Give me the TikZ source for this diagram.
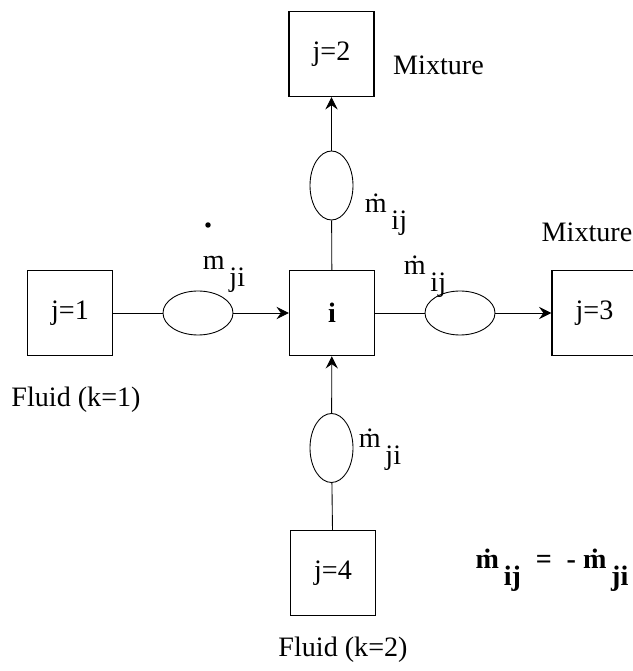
\documentclass[tikz,border=0pt]{standalone}
\usepackage{fontspec}
\setmainfont{Liberation Serif}
\usepackage{tikz}
\usetikzlibrary{positioning, arrows.meta, shapes.geometric}
\tikzset{
    cell/.style={
        rectangle,
        draw=black,
        line width=0.8pt,
        minimum size=1.7cm,
        inner sep=0pt
    },
    link/.style={
        ellipse,
        draw=black,
        line width=0.5pt,
        minimum width=1.4cm,
        minimum height=0.88cm,
        inner sep=0pt
    },
    vlink/.style={
        link,
        minimum width=0.86cm,
        minimum height=1.38cm
    },
    flow/.style={
        line width=0.5pt
    },
    flowarrow/.style={
        line width=0.5pt,
        -{Stealth[length=7pt,width=7pt,inset=2.5pt]}
    },
    dotmark/.style={
        circle,
        fill=black,
        inner sep=1.1pt
    }
}
\newcommand{\mflow}[1]{\.m\raisebox{-0.6em}{\,#1}}

\begin{document}
\begin{tikzpicture}[font=\fontsize{16}{19}\selectfont]
      \useasboundingbox (0,0) rectangle (12.64,13.42);

      \node[cell] (I) at (6.64,7.16) {\textbf{i}};
      \node[cell] (J1) at (1.40,7.16) {j=1};
      \node[cell] (J2) at (6.63,12.34) {j=2};
      \node[cell] (J3) at (11.89,7.16) {j=3};
      \node[cell] (J4) at (6.66,1.96) {j=4};

      \node[link] (E1) at (3.96,7.16) {};
      \node[link] (E3) at (9.20,7.16) {};
      \node[vlink] (E2) at (6.63,9.71) {};
      \node[vlink] (E4) at (6.63,4.46) {};

      \draw[flow] (J1)--(E1);
      \draw[flowarrow] (E1)--(I);
      \draw[flow] (I)--(E3);
      \draw[flowarrow] (E3)--(J3);
      \draw[flow] (I)--(E2);
      \draw[flowarrow] (E2)--(J2);
      \draw[flow] (J4)--(E4);
      \draw[flowarrow] (E4)--(I);

      \node (M2) at (8.77,12.12) {Mixture};
      \node (M3) at (11.74,8.78) {Mixture};
      \node (F1) at (1.52,5.42) {Fluid (k=1)};
      \node (F2) at (6.86,0.42) {Fluid (k=2)};

      \node (L1) at (4.48,7.93) {m\raisebox{-0.6em}{\,ji}};
      \node[dotmark] (D1) at (4.16,8.92) {};
      \node (L2) at (7.72,9.12) {\mflow{ij}};
      \node (L3) at (8.50,7.88) {\mflow{ij}};
      \node (L4) at (7.60,4.42) {\mflow{ji}};

      \node (EQ) at (11.04,2.02) {\textbf{\mflow{ij} \;=\; - \mflow{ji}}};

    \end{tikzpicture}
\end{document}
